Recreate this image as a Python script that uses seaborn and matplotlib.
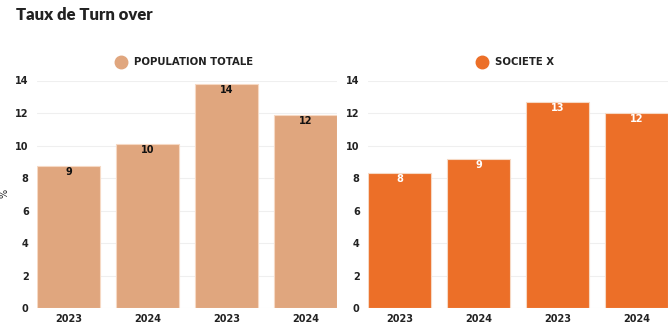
import matplotlib
matplotlib.use("Agg")
import matplotlib.pyplot as plt
from matplotlib.lines import Line2D
import seaborn as sns
import pandas as pd

# Turnover rates (%) per year, two groups of bars per panel
years = ["2023", "2024", "2023", "2024"]
population_totale = [8.75, 10.1, 13.8, 11.9]
societe_x = [8.3, 9.2, 12.7, 12.0]

series_names = ["POPULATION TOTALE", "SOCIETE X"]
series_colors = ["#E0A67E", "#EC6F28"]
label_colors = ["#111111", "#FFFFFF"]
y_ticks = [0, 2, 4, 6, 8, 10, 12, 14]

sns.set_theme(style="white")
plt.rcParams["font.family"] = ["DejaVu Sans"]

fig = plt.figure(figsize=(6.71, 3.24), dpi=100)
W, H = 671, 324
ax_left = fig.add_axes([37 / W, (H - 308.3) / H, 300 / W, 227.8 / H])
ax_right = fig.add_axes([368 / W, (H - 308.3) / H, 300 / W, 227.8 / H])

text_dark = "#222222"

for ax, values, name, color, lab_col in zip(
    [ax_left, ax_right], [population_totale, societe_x],
    series_names, series_colors, label_colors):
    df = pd.DataFrame({"slot": list(range(len(values))), "value": values})
    sns.barplot(data=df, x="slot", y="value", color=color, width=0.8,
                saturation=1, edgecolor="#F6D9C4", linewidth=0.8, ax=ax)
    ax.set_xlim(-0.4, len(values) - 0.6)
    ax.set_ylim(0, 14)
    ax.set_yticks(y_ticks)
    ax.set_yticklabels([str(t) for t in y_ticks], fontsize=7,
                       fontweight="bold", color=text_dark)
    ax.set_xticks(range(len(years)))
    ax.set_xticklabels(years, fontsize=7, fontweight="bold", color=text_dark)
    ax.tick_params(axis="y", length=0, pad=6)
    ax.tick_params(axis="x", length=0, pad=4)
    ax.yaxis.grid(True, color="#EFEFEF", linewidth=0.8)
    ax.set_axisbelow(True)
    for s in ax.spines.values():
        s.set_visible(False)
    ax.set_xlabel("")
    ax.set_ylabel("")
    # value labels inside the top of each bar
    for i, v in enumerate(values):
        ax.annotate(f"{v:.0f}", (i, v), xytext=(0, -4.5), textcoords="offset points",
                    ha="center", va="center", fontsize=7, fontweight="bold",
                    color=lab_col)
    handle = Line2D([], [], marker="o", linestyle="", markersize=9,
                    markerfacecolor=color, markeredgecolor=color)
    leg = ax.legend([handle], [name], loc="lower center",
                    bbox_to_anchor=(0.482, 1.04), frameon=False,
                    handletextpad=0.3, borderaxespad=0,
                    prop={"size": 7.3, "weight": "bold"})
    for t in leg.get_texts():
        t.set_color(text_dark)

fig.text(5 / W, 1 - 193 / H, "%", fontsize=7, color=text_dark,
         rotation=90, ha="center", va="center")

fig.text(16 / W, 1 - 15 / H, "Taux de Turn over", fontsize=12,
         fontweight="heavy", color=text_dark, ha="left", va="center",
         family=["Lato", "DejaVu Sans"])

fig.savefig("out.png", dpi=100)
